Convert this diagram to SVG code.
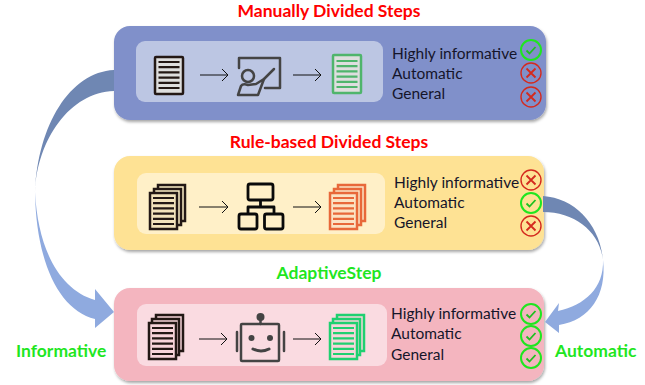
<svg xmlns="http://www.w3.org/2000/svg" xmlns:xlink="http://www.w3.org/1999/xlink" width="645" height="385" viewBox="0 0 645 385">
<style>
text{font-family:"Lato","Liberation Sans",sans-serif}
.t{font-weight:700;font-size:17.500px;text-anchor:middle}
.r{fill:#f00}.g{fill:#1fe61f}
.l{font-size:15.500px;fill:#15152a}
.la{font-weight:700;font-size:17.500px;fill:#1fe61f}
.arr{fill:none;stroke:#111;stroke-width:1;marker-end:url(#open)}
.ic{fill:none;stroke:#444;stroke-width:2.5;stroke-linejoin:round;stroke-linecap:round}
.h{fill:none;stroke:#0a0a0a;stroke-width:2.8;stroke-linejoin:round}
</style>
<defs>
<filter id="sh" x="-5%" y="-10%" width="110%" height="125%"><feDropShadow dx="1" dy="2" stdDeviation="1.5" flood-color="#000" flood-opacity=".35"/></filter>
<marker id="open" markerUnits="userSpaceOnUse" markerWidth="12" markerHeight="16" refX="9" refY="7" orient="auto"><path d="M3 1L9 7L3 13" fill="none" stroke="#111" stroke-width="1"/></marker>
<g id="ok"><circle r="10" fill="none" stroke="#1fe61f" stroke-width="2"/><path d="M-4.500 .5L-1.500 3.500L4.500 -3" fill="none" stroke="#1fc01f" stroke-width="1.800"/></g>
<g id="no"><circle r="10" fill="none" stroke="#d42a1e" stroke-width="1.400"/><path d="M-4.500 -4.500L4.500 4.500M4.500 -4.500L-4.500 4.500" fill="none" stroke="#d42a1e" stroke-width="1.800"/></g>
<path id="lines" d="M0 0H21M0 5.200H21M0 10.400H21M0 15.600H21M0 20.800H21M0 26H21" fill="none" stroke-width="2.200"/>
</defs>

<g id="manual">
<text class="t r" x="329" y="17">Manually Divided Steps</text>
<rect x="114" y="26" width="432" height="94" rx="16" fill="#8090ca" filter="url(#sh)"/>
<rect x="136" y="41" width="247" height="61" rx="9" fill="#bcc6e3"/>
<rect x="155" y="57" width="28" height="37" rx="1" fill="#dedede" stroke="#231815" stroke-width="2.500"/>
<use href="#lines" x="158.500" y="62" stroke="#231815"/>
<path class="ic" d="M239 68V58H280V88H265"/>
<circle class="ic" cx="248" cy="76" r="6"/>
<path class="ic" d="M238 95L241 86Q243 83 248 85L256 84L264 79L258 95Z"/>
<path class="ic" d="M264 79L274 69"/>
<rect x="333" y="55" width="28" height="38" rx="1" fill="#dedede" stroke="#4fb56c" stroke-width="2.500"/>
<use href="#lines" x="336.500" y="61" stroke="#4fb56c"/>
<text class="l" x="392" y="59">Highly informative</text>
<text class="l" x="392" y="79">Automatic</text>
<text class="l" x="392" y="99">General</text>
<use href="#ok" x="531" y="50"/><use href="#no" x="531" y="73"/><use href="#no" x="531" y="97"/>
</g>

<g id="rule">
<text class="t r" x="329" y="148">Rule-based Divided Steps</text>
<rect x="114" y="156" width="430" height="94" rx="16" fill="#fee294" filter="url(#sh)"/>
<rect x="137" y="173" width="248" height="61" rx="9" fill="#fff0c8"/>
<g fill="#fff0c8" stroke="#231815" stroke-width="2.500">
<rect x="158" y="185" width="27" height="36"/><rect x="154" y="189" width="27" height="36"/><rect x="150" y="193" width="27" height="36" fill="#f3e3bc"/>
</g>
<use href="#lines" x="153" y="198" stroke="#231815"/>
<rect class="h" x="248" y="184" width="25" height="16" rx="2"/>
<rect class="h" x="239" y="214" width="18" height="15" rx="2"/>
<rect class="h" x="264.500" y="214" width="18.500" height="15" rx="2"/>
<path class="h" d="M260.500 200V207M248 214V207H274V214"/>
<g fill="#fbe3c5" stroke="#e8683a" stroke-width="2.500">
<rect x="338" y="185" width="27" height="36"/><rect x="334" y="189" width="27" height="36"/><rect x="330" y="193" width="27" height="36"/>
</g>
<use href="#lines" x="333" y="198" stroke="#e8683a"/>
<text class="l" x="394" y="188">Highly informative</text>
<text class="l" x="394" y="208">Automatic</text>
<text class="l" x="394" y="228">General</text>
<use href="#no" x="531" y="180"/><use href="#ok" x="531" y="203"/><use href="#no" x="531" y="226"/>
</g>

<g id="adaptive">
<text class="t g" x="329" y="279">AdaptiveStep</text>
<rect x="114" y="288" width="430" height="93" rx="16" fill="#f4b5bf" filter="url(#sh)"/>
<rect x="137" y="304" width="250" height="62" rx="9" fill="#fadbe1"/>
<g fill="#f8d4da" stroke="#231815" stroke-width="2.500">
<rect x="156" y="315" width="27" height="36"/><rect x="152" y="319" width="27" height="36"/><rect x="149" y="323" width="27" height="36"/>
</g>
<use href="#lines" x="152" y="328" stroke="#231815"/>
<path class="ic" d="M260.500 324V317M237 332V351M284 332V351"/>
<circle cx="260.500" cy="317" r="4" fill="#444"/>
<rect class="ic" x="241" y="324" width="38" height="37" rx="1"/>
<circle cx="251.500" cy="338" r="3" fill="#444"/><circle cx="270" cy="338" r="3" fill="#444"/>
<path d="M253 349Q261 353 269 349" fill="none" stroke="#444" stroke-width="3" stroke-linecap="round"/>
<g fill="#f8d4da" stroke="#1fd070" stroke-width="2.500">
<rect x="337" y="315" width="27" height="36"/><rect x="333" y="319" width="27" height="36"/><rect x="330" y="323" width="27" height="36"/>
</g>
<use href="#lines" x="333" y="328" stroke="#1fd070"/>
<text class="l" x="391" y="319">Highly informative</text>
<text class="l" x="391" y="339">Automatic</text>
<text class="l" x="391" y="360">General</text>
<use href="#ok" x="531" y="314"/><use href="#ok" x="531" y="336"/><use href="#ok" x="531" y="358"/>
</g>

<g id="connectors">
<path d="M114 70C70 72 38 125 35 192C37 140 70 92 114 91Z" fill="#6f87b3"/>
<path d="M35 192C38 250 60 290 95 300L95 289L114 312L95 328L95 319C58 310 36 260 35 192Z" fill="#8faadf"/>
<path d="M543 196C575 198 600 225 603 260C600 232 575 212 543 212Z" fill="#6f87b3"/>
<path d="M603 260C604 288 585 305 558 311L559 303L545 322L559 333L559 325C590 320 607 295 603 260Z" fill="#8faadf"/>
<path class="arr" d="M200 75H228"/><path class="arr" d="M293 75H321"/>
<path class="arr" d="M199 207H228"/><path class="arr" d="M293 207H321"/>
<path class="arr" d="M199 339H227"/><path class="arr" d="M293 339H321"/>
</g>

<text class="la" x="16" y="357">Informative</text>
<text class="la" x="555" y="357">Automatic</text>
</svg>
